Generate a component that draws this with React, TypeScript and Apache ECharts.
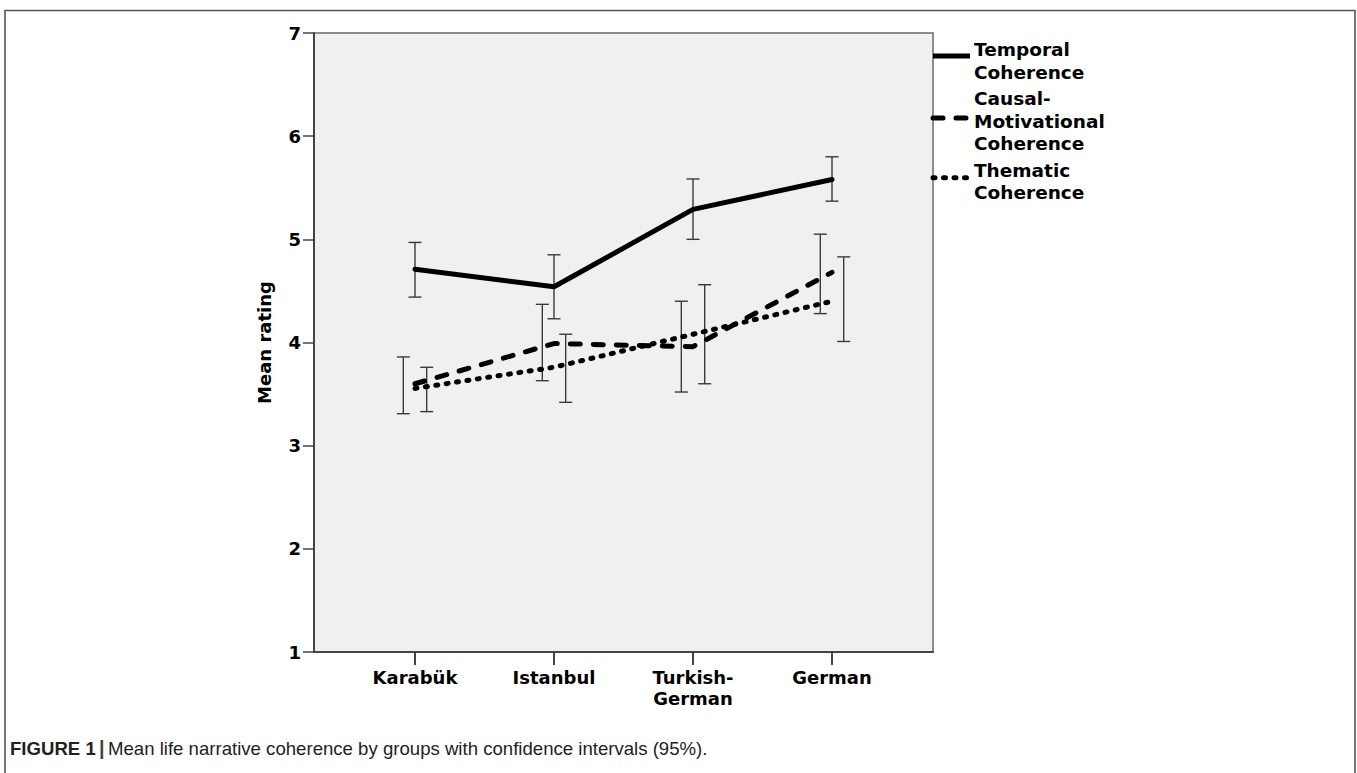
import React, { useEffect, useRef } from "react";
import * as echarts from "echarts";

const categories = ["Karabük", "Istanbul", "Turkish-\nGerman", "German"];
const yTicks = [1, 2, 3, 4, 5, 6, 7];

const temporalMean = [4.71, 4.54, 5.29, 5.58];
const temporalLow = [4.44, 4.23, 5.0, 5.37];
const temporalHigh = [4.97, 4.85, 5.585, 5.8];

const causalMean = [3.6, 3.99, 3.96, 4.68];
const causalLow = [3.31, 3.63, 3.52, 4.28];
const causalHigh = [3.86, 4.37, 4.4, 5.05];

const thematicMean = [3.555, 3.76, 4.08, 4.4];
const thematicLow = [3.33, 3.42, 3.6, 4.01];
const thematicHigh = [3.76, 4.08, 4.56, 4.83];

const seriesNames = ["Temporal\nCoherence", "Causal-\nMotivational\nCoherence", "Thematic\nCoherence"];
const caption = "Mean life narrative coherence by groups with confidence intervals (95%).";

const FONT = "DejaVu Sans";
const DODGE = 0.084; // error bar horizontal offset (category units)
const PAD = 0.7266; // axis padding (category units)

const lineStyles = [
  { color: "#000", width: 5, type: "solid" as any, cap: "round" },
  { color: "#000", width: 5, type: [10, 13] as any, cap: "round" },
  { color: "#000", width: 5, type: [2, 8.5] as any, cap: "round" },
];

function points(means: number[]) {
  return means.map((v, i) => [i, v]);
}
function bars(low: number[], high: number[], off: number) {
  return low.map((l, i) => [i + off, l, high[i]]);
}

function errorBarSeries(data: number[][]) {
  return {
    type: "custom",
    z: 2,
    data,
    renderItem: (params: any, api: any) => {
      const x = api.value(0);
      const lo = api.coord([x, api.value(1)]);
      const hi = api.coord([x, api.value(2)]);
      const w = 6.5;
      const st = { stroke: "#3a3a3a", lineWidth: 1.4 };
      return {
        type: "group",
        children: [
          { type: "line", shape: { x1: lo[0], y1: lo[1], x2: hi[0], y2: hi[1] }, style: st },
          { type: "line", shape: { x1: lo[0] - w, y1: lo[1], x2: lo[0] + w, y2: lo[1] }, style: st },
          { type: "line", shape: { x1: hi[0] - w, y1: hi[1], x2: hi[0] + w, y2: hi[1] }, style: st },
        ],
      };
    },
  };
}

export default function App() {
  const ref = useRef<HTMLDivElement>(null);
  useEffect(() => {
    if (!ref.current) return;
    const chart = echarts.init(ref.current, null, { renderer: "svg" });
    const legendY = [56, 118, 177.7];
    const legendTextY = [61.2, 121.2, 181.3];
    const graphics: any[] = [
      {
        type: "polyline",
        shape: { points: [[5, 780], [5, 10.5], [1355, 10.5], [1355, 780]] },
        style: { stroke: "#555", lineWidth: 1.6, fill: null },
        silent: true,
      },
    ];
    seriesNames.forEach((n, i) => {
      const ls = lineStyles[i];
      graphics.push({
        type: "line",
        shape: { x1: 933, y1: legendY[i], x2: 970, y2: legendY[i] },
        style: {
          stroke: ls.color,
          lineWidth: ls.width,
          lineDash: Array.isArray(ls.type) ? ls.type : null,
          lineCap: i === 0 ? "butt" : "round",
        },
      });
      graphics.push({
        type: "text",
        x: 974,
        y: legendTextY[i],
        style: {
          text: n,
          font: `bold 18.5px "${FONT}"`,
          fill: "#000",
          lineHeight: 22.5,
          verticalAlign: "middle",
          textAlign: "left",
        },
      });
    });
    graphics.push({
      type: "text",
      x: 10,
      y: 748,
      style: {
        text: `{b|FIGURE 1} {s||} {r|${caption}}`,
        verticalAlign: "middle",
        rich: {
          b: { fontFamily: "Liberation Sans", fontWeight: "bold", fontSize: 18.6, fill: "#222" },
          s: { fontFamily: "Liberation Sans", fontWeight: "bold", fontSize: 20, fill: "#444" },
          r: { fontFamily: "Liberation Sans", fontSize: 18.6, fill: "#222" },
        },
      },
    });

    chart.setOption({
      animation: false,
      grid: {
        left: 314,
        top: 33,
        right: 1357 - 933,
        bottom: 773 - 652,
        show: true,
        backgroundColor: "#f0f0f0",
        borderColor: "#6a6a6a",
        borderWidth: 1.5,
      },
      xAxis: {
        type: "value",
        min: -PAD,
        max: 3 + PAD,
        splitLine: { show: false },
        axisLine: { show: true, onZero: false, lineStyle: { color: "#444", width: 2 } },
        axisTick: { show: true, customValues: [0, 1, 2, 3], length: 13, lineStyle: { color: "#444", width: 2 } },
        axisLabel: {
          customValues: [0, 1, 2, 3],
          formatter: (v: number) => categories[Math.round(v)],
          fontFamily: FONT,
          fontWeight: "bold",
          fontSize: 18,
          lineHeight: 21,
          color: "#000",
          margin: 15,
        },
      },
      yAxis: {
        type: "value",
        min: yTicks[0],
        max: yTicks[yTicks.length - 1],
        interval: 1,
        name: "Mean rating",
        nameLocation: "middle",
        nameRotate: 90,
        nameGap: 41,
        nameTextStyle: { fontFamily: FONT, fontWeight: "bold", fontSize: 18, color: "#000" },
        splitLine: { show: false },
        axisLine: { show: true, onZero: false, lineStyle: { color: "#444", width: 2 } },
        axisTick: { show: true, length: 11, lineStyle: { color: "#444", width: 1.5 } },
        axisLabel: { fontFamily: FONT, fontWeight: "bold", fontSize: 18, color: "#000", margin: 13 },
      },
      graphic: graphics,
      series: [
        ...[temporalMean, causalMean, thematicMean].map((m, i) => ({
          type: "line",
          name: seriesNames[i],
          data: points(m),
          symbol: "none",
          z: 3,
          lineStyle: { color: lineStyles[i].color, width: lineStyles[i].width, type: lineStyles[i].type, cap: lineStyles[i].cap },
        })),
        errorBarSeries(bars(temporalLow, temporalHigh, 0)),
        errorBarSeries(bars(causalLow, causalHigh, -DODGE)),
        errorBarSeries(bars(thematicLow, thematicHigh, DODGE)),
      ],
    });
    return () => chart.dispose();
  }, []);
  return (
    <div
      ref={ref}
      style={{ position: "absolute", left: 0, top: 0, width: 1357, height: 773, background: "#fff" }}
    />
  );
}
